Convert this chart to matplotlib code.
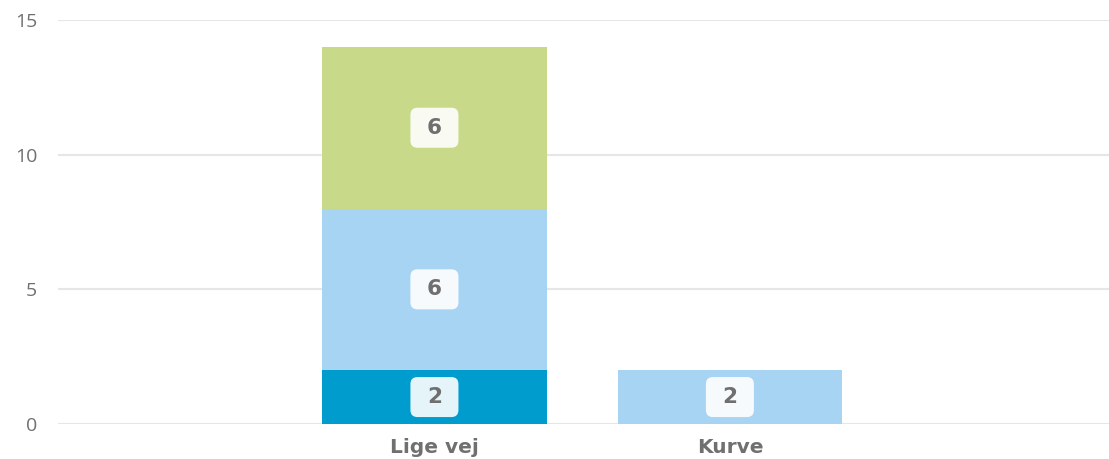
import numpy as np
import matplotlib.pyplot as plt
from matplotlib.patches import FancyBboxPatch
from matplotlib.transforms import ScaledTranslation

categories = ["Lige vej", "Kurve"]
series_a = [2, 0]
series_b = [6, 2]
series_c = [6, 0]
series_colors = ["#009ccd", "#a8d4f4", "#c8d98a"]

fig = plt.figure(figsize=(11.09, 4.59), dpi=100)
ax = fig.add_axes([58 / 1109, 35 / 459, 1 - 58 / 1109, 404 / 459])

x = np.arange(len(categories))
bottom = np.zeros(len(categories))
for vals, col in zip([series_a, series_b, series_c], series_colors):
    vals = np.array(vals, dtype=float)
    ax.bar(x, vals, width=0.76, bottom=bottom, color=col, zorder=2)
    for xi, v, b in zip(x, vals, bottom):
        if v > 0:
            # label box, 48x40 px, centred on the segment
            tr = fig.dpi_scale_trans + ScaledTranslation(xi, b + v / 2, ax.transData)
            box = FancyBboxPatch((-0.24, -0.20), 0.48, 0.40,
                                 boxstyle="round,pad=0,rounding_size=0.07",
                                 fc="white", ec="none", alpha=0.9,
                                 transform=tr, zorder=3)
            ax.add_patch(box)
            ax.text(xi, b + v / 2, f"{int(v)}", ha="center", va="center",
                    fontsize=15.5, fontweight="bold", color="#6f6f6f",
                    family="DejaVu Sans", zorder=4)
    bottom += vals

ax.set_xlim(-1.274, 2.283)
ax.set_ylim(0, 15)
ax.set_yticks([0, 5, 10, 15])
ax.set_xticks(x)
ax.set_xticklabels(categories, fontsize=14.5, fontweight="bold",
                   color="#707070", family="DejaVu Sans")
ax.tick_params(axis="x", length=0, pad=10)
ax.tick_params(axis="y", length=0, pad=15, labelsize=14, labelcolor="#707070")
for lbl in ax.get_yticklabels():
    lbl.set_family("Open Sans")
ax.grid(axis="y", color="#e6e6e6", linewidth=1.5, zorder=0)
for s in ax.spines.values():
    s.set_visible(False)

fig.savefig("out.png", dpi=100)
